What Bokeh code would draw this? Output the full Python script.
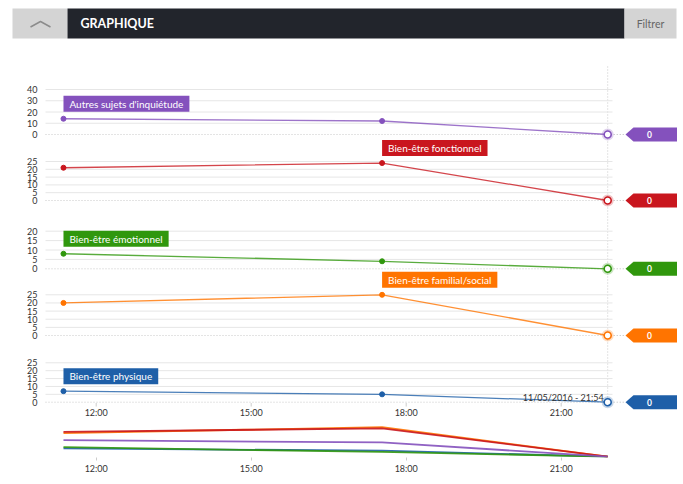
from datetime import datetime, timedelta

from bokeh.core.properties import value
from bokeh.embed import file_html
from bokeh.layouts import column
from bokeh.models import DatetimeTickFormatter, FixedTicker, Label, Range1d
from bokeh.plotting import figure
from bokeh.resources import INLINE

# ---------------- data ----------------
times = [datetime(2016, 5, 11, 11, 22), datetime(2016, 5, 11, 17, 32), datetime(2016, 5, 11, 21, 54)]
series_names = ["Autres sujets d'inquiétude", "Bien-être fonctionnel", "Bien-être émotionnel",
                "Bien-être familial/social", "Bien-être physique"]
autres = [14, 12, 0]
fonctionnel = [21, 24, 0]
emotionnel = [8, 4, 0]
familial = [20, 25, 0]
physique = [7, 5, 0]
series_values = [autres, fonctionnel, emotionnel, familial, physique]
colors = ["#8451bd", "#c9161e", "#30970d", "#ff7400", "#1e5fa8"]
y_ticks = [[0, 10, 20, 30, 40], [0, 5, 10, 15, 20, 25], [0, 5, 10, 15, 20],
           [0, 5, 10, 15, 20, 25], [0, 5, 10, 15, 20, 25]]
x_ticks = [datetime(2016, 5, 11, h) for h in (12, 15, 18, 21)]
crosshair_label = "11/05/2016 - 21:54"
header_title = "GRAPHIQUE"
filter_label = "Filtrer"

# ---------------- layout constants (page pixels) ----------------
W = 677
MAIN_H = 420
PLOT_BOTTOM = 402.5
PX_PER_H = 51.667
X12_PX = 95.7
GRID_X0, GRID_X1 = 45, 612
FONT = "Lato"
X_START = datetime(2016, 5, 11, 12, 0) - timedelta(hours=X12_PX / PX_PER_H)
X_END = X_START + timedelta(hours=W / PX_PER_H)

# pixel of value 0, pixel of top tick, for each stacked panel
panel_geo = [(134.0, 89.0), (200.0, 161.0), (268.3, 230.7), (335.0, 294.3), (401.7, 362.3)]


def ms(t):
    return (t - datetime(1970, 1, 1)).total_seconds() * 1000.0


t_ms = [ms(t) for t in times]
xt_ms = [ms(t) for t in x_ticks]
xt_labels = [t.strftime("%H:%M") for t in x_ticks]
xr = Range1d(ms(X_START), ms(X_END))

p = figure(width=W, height=MAIN_H, x_range=xr, y_range=Range1d(MAIN_H, 0),
           x_axis_type="datetime", x_axis_location=None, y_axis_location=None,
           toolbar_location=None, output_backend="svg", min_border=0, outline_line_color=None)
p.grid.visible = False
p.extra_x_ranges = {"px": Range1d(0, W)}

# ---------------- header ----------------
p.quad(left=[12, 67, 624], right=[67, 624, 676], top=8, bottom=38, x_range_name="px",
       fill_color=["#d4d4d4", "#22252c", "#d4d4d4"], line_color=None)
p.line(x=[30, 40, 50], y=[26.5, 21, 26.5], x_range_name="px", line_color="#8c8c8c",
       line_width=1.5)
p.text(x=[80], y=[23], text=[header_title], x_range_name="px", text_color="white",
       text_font=value(FONT), text_font_size="12.5px", text_font_style="bold",
       text_baseline="middle")
p.text(x=[650], y=[23.5], text=[filter_label], x_range_name="px", text_color="#666666",
       text_font=value(FONT), text_font_size="10.5px", text_align="center",
       text_baseline="middle")

# crosshair
p.segment(x0=[t_ms[-1]], x1=[t_ms[-1]], y0=[66], y1=[404], line_color="#c8c8c8",
          line_dash="1 2", line_width=1)

# main time axis (ticks + labels)
p.segment(x0=xt_ms, x1=xt_ms, y0=PLOT_BOTTOM, y1=PLOT_BOTTOM + 3.5, line_color="#cccccc",
          line_width=1)
p.text(x=xt_ms, y=411.5, text=xt_labels, text_align="center", text_baseline="middle",
       text_font=value(FONT), text_font_size="9px", text_color="#333333")

# ---------------- stacked panels ----------------
for i, (name, vals, c) in enumerate(zip(series_names, series_values, colors)):
    zpx, tpx = panel_geo[i]
    ticks = y_ticks[i]
    s = (zpx - tpx) / ticks[-1]
    rn = f"p{i}"
    p.extra_y_ranges[rn] = Range1d(-(MAIN_H - zpx) / s, zpx / s)

    # grid
    solid = [t for t in ticks if t != 0]
    p.segment(x0=GRID_X0, x1=GRID_X1, y0=solid, y1=solid, x_range_name="px", y_range_name=rn,
              line_color="#e6e6e6", line_width=1)
    p.segment(x0=GRID_X0, x1=GRID_X1, y0=[0], y1=[0], x_range_name="px", y_range_name=rn,
              line_color="#c8c8c8", line_width=1, line_dash="1 2")
    # tick labels
    p.text(x=37, y=ticks, text=[str(t) for t in ticks], x_range_name="px", y_range_name=rn,
           text_align="right", text_baseline="middle", text_font=value(FONT),
           text_font_size="9px", text_color="#333333")

    # connector to the value tag
    p.ray(x=[t_ms[-1]], y=[vals[-1]], y_range_name=rn, length=18, length_units="screen",
          angle=0, line_color="#bbbbbb", line_dash="1 2", line_width=1)

    p.line(t_ms, vals, y_range_name=rn, line_color=c, line_width=1.3, line_alpha=0.8)
    p.scatter(t_ms[:-1], vals[:-1], y_range_name=rn, size=5, fill_color=c, line_color=c)
    p.scatter([t_ms[-1]], [vals[-1]], y_range_name=rn, size=12, fill_color=c, fill_alpha=0.25,
              line_color=None)
    p.scatter([t_ms[-1]], [vals[-1]], y_range_name=rn, size=7, fill_color="white",
              line_color=c, line_width=1.6)

    # value tag on the right
    p.wedge(x=[625], y=[vals[-1]], radius=10.6, radius_units="screen", start_angle=-0.719,
            end_angle=0.719, x_range_name="px", y_range_name=rn, fill_color=c, line_color=None)
    p.rect(x=[655], y=[vals[-1]], width=44, height=14, height_units="screen",
           x_range_name="px", y_range_name=rn, fill_color=c, line_color=None)
    p.text(x=[649], y=[vals[-1]], text=[str(vals[-1])], x_range_name="px", y_range_name=rn,
           text_color="white", text_font=value(FONT), text_font_size="8.5px",
           text_font_style="bold", text_align="center", text_baseline="middle")

    # series label at its maximum
    k = max(range(len(vals)), key=lambda j: vals[j])
    p.add_layout(Label(x=t_ms[k], y=vals[k], y_range_name=rn, text=name, x_offset=0,
                       y_offset=7, text_font=FONT, text_font_size="10px", text_color="white",
                       text_align="left", text_baseline="bottom",
                       background_fill_color=c, padding=(6, 2)))

    if i == len(series_names) - 1:
        p.text(x=[t_ms[-1]], y=[vals[-1]], y_range_name=rn, text=[crosshair_label],
               x_offset=-4, y_offset=1, text_align="right", text_baseline="bottom",
               text_font=value(FONT), text_font_size="9px", text_color="#333333")

# ---------------- navigator ----------------
nav_s = (460 - 427.3) / 25
nav = figure(width=W, height=56, x_range=xr, y_range=Range1d(-1 / nav_s, (460 - 421) / nav_s),
             x_axis_type="datetime", y_axis_location=None, toolbar_location=None,
             output_backend="svg", min_border=0, min_border_top=1, min_border_bottom=15,
             outline_line_color=None)
nav.grid.visible = False
for idx in (4, 2, 3, 1, 0):
    nav.line(t_ms, series_values[idx], line_color=colors[idx], line_width=1.8, line_alpha=0.9)
ax = nav.xaxis[0]
ax.ticker = FixedTicker(ticks=xt_ms)
ax.formatter = DatetimeTickFormatter(hours="%H:%M", hourmin="%H:%M", minutes="%H:%M")
ax.axis_line_color = None
ax.major_tick_line_color = "#cccccc"
ax.major_tick_out = 3
ax.major_tick_in = 0
ax.minor_tick_line_color = None
ax.major_label_standoff = 2
ax.major_label_text_font_size = "9px"
ax.major_label_text_font = FONT
ax.major_label_text_color = "#333333"

layout = column(p, nav)
open("out.html", "w").write(file_html(layout, INLINE))
